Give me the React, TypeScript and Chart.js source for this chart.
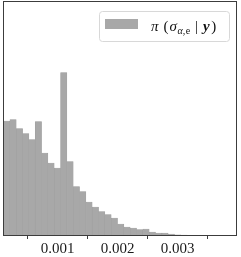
import React, { useEffect, useRef } from "react";
import { Chart, registerables } from "chart.js";

Chart.register(...registerables);

// Histogram of posterior samples for sigma_{alpha,e}
const binCenters = [
  0.000153, 0.000258, 0.000364, 0.000469, 0.000575, 0.00068, 0.000786, 0.000891,
  0.000997, 0.001102, 0.001208, 0.001313, 0.001419, 0.001524, 0.00163, 0.001735,
  0.001841, 0.001946, 0.002052, 0.002157, 0.002263, 0.002368, 0.002474, 0.002579,
  0.002685, 0.00279, 0.002896, 0.003001, 0.003107, 0.003212, 0.003318, 0.003423,
];
const density = [
  115, 116.5, 107.5, 102.5, 96.5, 114.5, 83, 73,
  68, 163.5, 74.5, 49.5, 44.5, 34, 29, 24.5,
  21.3, 18, 12, 9, 8, 6.5, 7, 4,
  3, 3, 2, 1.2, 0.8, 0.6, 0.5, 0.3,
];
const xTicks = [0.001, 0.002, 0.003];
const xMin = 0.00009;
const xMax = 0.00399;
const yMax = 235;

const BAR_COLOR = "#a8a8a8";

const framePlugin = {
  id: "frame",
  afterDatasetsDraw(chart: any) {
    const { ctx, chartArea } = chart;
    const { left, top, right, bottom } = chartArea;
    ctx.save();
    ctx.strokeStyle = "#3c3c3c";
    ctx.lineWidth = 1;
    ctx.strokeRect(left + 0.5, top + 0.5, right - left - 1, bottom - top - 1);
    ctx.restore();
  },
};

const legendPlugin = {
  id: "mathLegend",
  afterDraw(chart: any) {
    const ctx = chart.ctx as CanvasRenderingContext2D;
    ctx.save();
    ctx.beginPath();
    (ctx as any).roundRect(99.5, 11.5, 130, 30, 3);
    ctx.fillStyle = "rgba(255,255,255,0.85)";
    ctx.fill();
    ctx.strokeStyle = "#d8d8d8";
    ctx.lineWidth = 1;
    ctx.stroke();
    ctx.fillStyle = BAR_COLOR;
    ctx.fillRect(105, 19, 33, 10);

    const fam = '"Liberation Serif", serif';
    const base = 31;
    let x = 151;
    ctx.fillStyle = "#111";
    ctx.textBaseline = "alphabetic";
    ctx.textAlign = "left";
    const put = (t: string, font: string, dy = 0, gap = 0) => {
      ctx.font = font;
      ctx.fillText(t, x, base + dy);
      x += ctx.measureText(t).width + gap;
    };
    put("π", `italic 15px ${fam}`, 0, 5);
    put("(", `15px ${fam}`, 0, 1);
    put("σ", `italic 15px ${fam}`, 0, 0.5);
    put("α", `italic 10px ${fam}`, 3, 0);
    put(",", `10px ${fam}`, 3, 0.5);
    put("e", `10px ${fam}`, 3, 5);
    put("|", `15px ${fam}`, 0, 5);
    put("y", `bold italic 15px ${fam}`, 0, 1.5);
    put(")", `15px ${fam}`, 0, 0);
    ctx.restore();
  },
};

export default function App() {
  const ref = useRef<HTMLCanvasElement | null>(null);
  useEffect(() => {
    if (!ref.current) return;
    const chart = new Chart(ref.current, {
      type: "bar",
      data: {
        datasets: [
          {
            label: "π (σα,e | y)",
            data: binCenters.map((c, i) => ({ x: c, y: density[i] })),
            backgroundColor: BAR_COLOR,
            borderColor: "#9e9e9e",
            borderWidth: 0.5,
            barPercentage: 1,
            categoryPercentage: 1,
          },
        ],
      },
      options: {
        responsive: false,
        animation: false,
        layout: { padding: { left: 3, right: 4, top: 1, bottom: 0 } },
        plugins: { legend: { display: false }, tooltip: { enabled: false } },
        scales: {
          x: {
            type: "linear",
            offset: false,
            min: xMin,
            max: xMax,
            afterBuildTicks: (s: any) => {
              s.ticks = xTicks.map((v) => ({ value: v }));
            },
            afterFit: (s: any) => {
              s.height = 21;
            },
            ticks: {
              autoSkip: false,
              maxRotation: 0,
              padding: 1,
              color: "#1a1a1a",
              font: { family: '"Liberation Serif", serif', size: 15 },
              callback: (v: any) => Number(v).toFixed(3),
            },
            grid: {
              display: true,
              drawOnChartArea: false,
              drawTicks: true,
              tickLength: 3,
              color: "#3c3c3c",
            },
            border: { display: false },
          },
          y: {
            display: false,
            min: 0,
            max: yMax,
          },
        },
      },
      plugins: [framePlugin, legendPlugin],
    });
    return () => chart.destroy();
  }, []);
  return (
    <div style={{ position: "fixed", left: 0, top: 0, width: 241, height: 257, background: "#fff" }}>
      <canvas ref={ref} width={241} height={257} style={{ display: "block", width: 241, height: 257 }} />
    </div>
  );
}
